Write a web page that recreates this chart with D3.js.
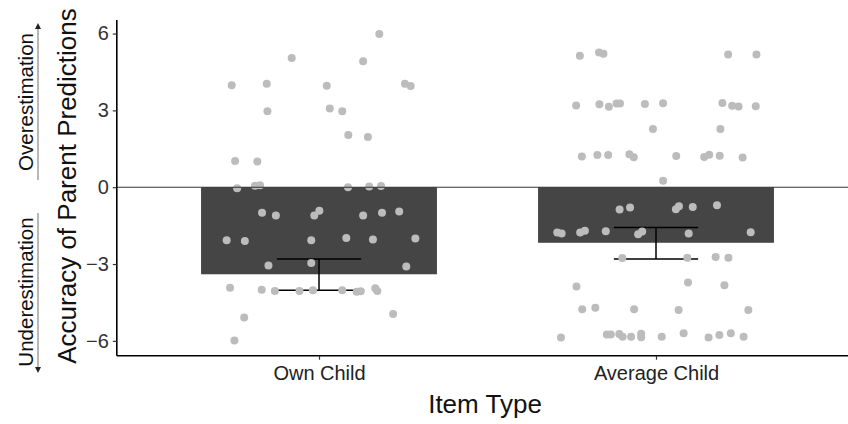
<!DOCTYPE html>
<html>
<head>
<meta charset="utf-8">
<script src="https://cdn.jsdelivr.net/npm/d3@7"></script>
<style>
  html, body { margin: 0; padding: 0; background: #fff; }
  svg { display: block; }
  text { font-family: "Liberation Sans", Arial, sans-serif; }
</style>
</head>
<body>
<svg id="chart" width="848" height="424"></svg>
<script>
// ---- data ----
const categories = ["Own Child", "Average Child"];
const barMeans = [-3.40, -2.17];
const errLow = [-4.02, -2.80];
const errHigh = [-2.80, -1.57];
const yTicks = [-6, -3, 0, 3, 6];

const ownValues = [3.98, 4.04, 5.05, 3.96, 5.98, 4.92, 4.04, 3.95, 2.97, 3.07, 2.97, 2.04, 1.96, 1.02, 1.00,
  -0.04, 0.06, 0.08, 0.00, 0.03, 0.05,
  -1.00, -1.10, -1.10, -0.92, -1.10, -1.00, -0.95,
  -2.07, -2.10, -2.07, -1.98, -2.04, -2.00,
  -3.06, -2.96, -3.10,
  -3.93, -4.00, -4.05, -4.05, -4.02, -4.02, -4.08, -4.06, -3.95, -4.05,
  -5.09, -4.95, -5.99];
const ownJitter = [-0.259, -0.155, -0.081, 0.023, 0.179, 0.131, 0.255, 0.272, -0.153, 0.032, 0.069, 0.087, 0.145, -0.249, -0.183,
  -0.243, -0.190, -0.175, 0.086, 0.149, 0.184,
  -0.169, -0.128, -0.014, 0.001, 0.131, 0.187, 0.238,
  -0.274, -0.220, -0.023, 0.081, 0.160, 0.286,
  -0.150, -0.023, 0.259,
  -0.264, -0.170, -0.131, -0.058, -0.018, 0.069, 0.112, 0.124, 0.167, 0.173,
  -0.222, 0.220, -0.251];

const avgValues = [5.13, 5.26, 5.21, 5.18, 5.18,
  3.19, 3.24, 3.14, 3.27, 3.27, 3.25, 3.28, 3.29, 3.18, 3.15, 3.16,
  2.27, 2.27,
  1.20, 1.26, 1.26, 1.29, 1.17, 1.22, 1.18, 1.27, 1.23, 1.16,
  0.25,
  -0.87, -0.79, -0.86, -0.74, -0.77, -0.70,
  -1.77, -1.81, -1.77, -1.70, -1.72, -1.84, -1.73, -1.81, -1.76,
  -2.76, -2.75, -2.73, -2.75,
  -3.88, -3.72, -3.83,
  -4.77, -4.71, -4.77, -4.80, -4.80,
  -5.87, -5.75, -5.75, -5.73, -5.84, -5.84, -5.72, -5.86, -5.84, -5.70, -5.87, -5.77, -5.70, -5.84];
const avgJitter = [-0.226, -0.169, -0.156, 0.214, 0.298,
  -0.237, -0.168, -0.140, -0.117, -0.107, -0.033, 0.021, 0.197, 0.226, 0.245, 0.296,
  -0.009, 0.191,
  -0.220, -0.174, -0.142, -0.079, -0.066, 0.060, 0.143, 0.158, 0.189, 0.257,
  0.021,
  -0.108, -0.077, 0.059, 0.068, 0.109, 0.181,
  -0.293, -0.280, -0.225, -0.211, -0.149, -0.053, -0.041, 0.097, 0.281,
  -0.100, 0.093, 0.177, 0.215,
  -0.236, 0.095, 0.203,
  -0.219, -0.180, -0.065, 0.067, 0.274,
  -0.282, -0.146, -0.134, -0.109, -0.099, -0.074, -0.044, -0.044, 0.017, 0.082, 0.156, 0.188, 0.222, 0.260];

// ---- layout ----
const svg = d3.select("#chart");
const plotLeft = 116.8, plotTop = 20, plotBottom = 355.7;
const unit = 337;
const x = d3.scaleLinear().domain([0.4, 2.6]).range([plotLeft, plotLeft + 2.2 * unit]);
const y = d3.scaleLinear().domain([-6.58, 6.53]).range([plotBottom, plotTop]);
const barW = 0.7, errW = 0.25;

const points = [];
ownValues.forEach((v, i) => points.push({ cat: 1, v, j: ownJitter[i] }));
avgValues.forEach((v, i) => points.push({ cat: 2, v, j: avgJitter[i] }));

// bars
svg.append("g").selectAll("rect").data(categories).join("rect")
  .attr("x", (d, i) => x(i + 1 - barW / 2))
  .attr("width", (d, i) => x(i + 1 + barW / 2) - x(i + 1 - barW / 2))
  .attr("y", (d, i) => y(0))
  .attr("height", (d, i) => y(barMeans[i]) - y(0))
  .attr("fill", "#454545");

// error bars
const eb = svg.append("g").attr("stroke", "#000").attr("stroke-width", 1.5).attr("fill", "none");
categories.forEach((c, i) => {
  const cx = i + 1;
  eb.append("line").attr("x1", x(cx)).attr("x2", x(cx)).attr("y1", y(errHigh[i])).attr("y2", y(errLow[i]));
  eb.append("line").attr("x1", x(cx - errW / 2)).attr("x2", x(cx + errW / 2)).attr("y1", y(errHigh[i])).attr("y2", y(errHigh[i]));
  eb.append("line").attr("x1", x(cx - errW / 2)).attr("x2", x(cx + errW / 2)).attr("y1", y(errLow[i])).attr("y2", y(errLow[i]));
});

// jittered points
svg.append("g").selectAll("circle").data(points).join("circle")
  .attr("cx", d => x(d.cat + d.j))
  .attr("cy", d => y(d.v))
  .attr("r", 4)
  .attr("fill", "#bcbcbc");

// zero line
svg.append("line")
  .attr("x1", plotLeft).attr("x2", 848)
  .attr("y1", y(0)).attr("y2", y(0))
  .attr("stroke", "#333").attr("stroke-width", 1.1);

// y axis
const yAxis = svg.append("g").attr("transform", `translate(${plotLeft},0)`)
  .call(d3.axisLeft(y).tickValues(yTicks).tickSize(4).tickPadding(4).tickFormat(d3.format("d")));
yAxis.select(".domain").attr("d", `M0,${plotTop}V${plotBottom}`).attr("stroke", "#000").attr("stroke-width", 1.6);
yAxis.selectAll(".tick line").attr("stroke", "#333").attr("stroke-width", 1.2);
yAxis.selectAll(".tick text").attr("fill", "#333").style("font-size", "20px")
  .style("font-family", "'Liberation Sans', Arial, sans-serif");

// x axis
const xAxis = svg.append("g").attr("transform", `translate(0,${plotBottom})`)
  .call(d3.axisBottom(x).tickValues([1, 2]).tickSize(4).tickPadding(6).tickFormat(d => categories[d - 1]));
xAxis.select(".domain").attr("d", `M${plotLeft},0H848`).attr("stroke", "#000").attr("stroke-width", 1.6);
xAxis.selectAll(".tick line").attr("stroke", "#333").attr("stroke-width", 1.2);
xAxis.selectAll(".tick text").attr("fill", "#222").style("font-size", "20px")
  .style("font-family", "'Liberation Sans', Arial, sans-serif");

// axis titles
svg.append("text").attr("x", 485).attr("y", 413).attr("text-anchor", "middle")
  .style("font-size", "26px").attr("fill", "#111").text("Item Type");
svg.append("text").attr("transform", "translate(76,186) rotate(-90)").attr("text-anchor", "middle")
  .style("font-size", "26px").attr("fill", "#111").text("Accuracy of Parent Predictions");

// over / under annotations
svg.append("text").attr("transform", "translate(33,102) rotate(-90)").attr("text-anchor", "middle")
  .style("font-size", "20.5px").attr("fill", "#111").text("Overestimation");
svg.append("text").attr("transform", "translate(33,292) rotate(-90)").attr("text-anchor", "middle")
  .style("font-size", "20.5px").attr("fill", "#111").text("Underestimation");

const defs = svg.append("defs");
defs.append("marker").attr("id", "arr").attr("viewBox", "0 0 10 10").attr("refX", 5).attr("refY", 5)
  .attr("markerWidth", 5).attr("markerHeight", 5).attr("orient", "auto-start-reverse")
  .append("path").attr("d", "M0,0L10,5L0,10Z").attr("fill", "#222");
svg.append("line").attr("x1", 38).attr("x2", 38).attr("y1", 180).attr("y2", 26)
  .attr("stroke", "#888").attr("stroke-width", 1.2).attr("marker-end", "url(#arr)");
svg.append("line").attr("x1", 38).attr("x2", 38).attr("y1", 213).attr("y2", 370)
  .attr("stroke", "#888").attr("stroke-width", 1.2).attr("marker-end", "url(#arr)");
</script>
</body>
</html>
